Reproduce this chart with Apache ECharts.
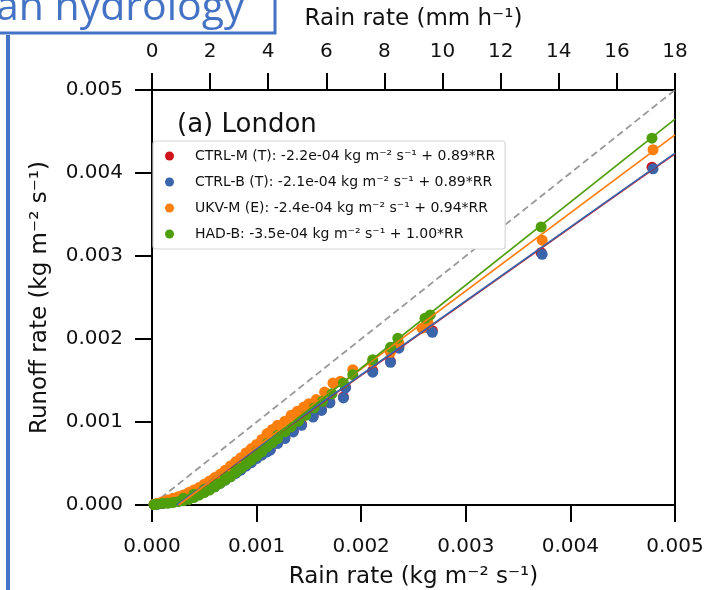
<!DOCTYPE html>
<html><head><meta charset="utf-8">
<script src="https://cdn.jsdelivr.net/npm/echarts@6/dist/echarts.min.js"></script>
<style>html,body{margin:0;padding:0;background:#fff}#c{width:705px;height:590px}</style>
</head><body><div id="c"></div>
<script>
const legendNames = [
  'CTRL-M (T): -2.2e-04 kg m⁻² s⁻¹ + 0.89*RR',
  'CTRL-B (T): -2.1e-04 kg m⁻² s⁻¹ + 0.89*RR',
  'UKV-M (E): -2.4e-04 kg m⁻² s⁻¹ + 0.94*RR',
  'HAD-B: -3.5e-04 kg m⁻² s⁻¹ + 1.00*RR'
];
const colors = ['#d0121b', '#3a65ab', '#ff7f0e', '#4f9e0c'];

const ctrlM = [
  [0.00002,0.000005],[0.00005,0.00001],[0.0001,0.00002],[0.00015,0.00003],[0.0002,0.00004],
  [0.00025,0.00005],[0.0003,0.00007],[0.00035,0.00009],[0.0004,0.00011],[0.00045,0.00014],
  [0.0005,0.00017],[0.00055,0.0002],[0.0006,0.00023],[0.00065,0.00027],[0.0007,0.00031],
  [0.00075,0.00035],[0.0008,0.00039],[0.00085,0.00043],[0.0009,0.00048],[0.00095,0.00052],
  [0.001,0.00057],[0.00105,0.00061],[0.0011,0.00065],[0.00113,0.00067],[0.0012,0.00075],
  [0.00127,0.00081],[0.00135,0.00089],[0.00143,0.00097],[0.00154,0.00107],[0.00162,0.00115],
  [0.0017,0.00124],[0.00183,0.0013],[0.00185,0.00142],[0.00211,0.00162],[0.00228,0.00173],
  [0.00236,0.00191],[0.00263,0.00215],[0.00268,0.0021],[0.00372,0.00304],[0.00478,0.00407]
];
const ctrlB = [
  [0.00002,0.000005],[0.00005,0.00001],[0.0001,0.00002],[0.00015,0.00003],[0.0002,0.00004],
  [0.00025,0.00005],[0.0003,0.00006],[0.00035,0.00008],[0.0004,0.0001],[0.00045,0.00013],
  [0.0005,0.00016],[0.00055,0.00019],[0.0006,0.00022],[0.00065,0.00026],[0.0007,0.0003],
  [0.00075,0.00034],[0.0008,0.00038],[0.00085,0.00042],[0.0009,0.00047],[0.00095,0.00051],
  [0.001,0.00056],[0.00105,0.0006],[0.0011,0.00064],[0.00113,0.00066],[0.0012,0.00074],
  [0.00127,0.0008],[0.00135,0.00088],[0.00143,0.00096],[0.00154,0.00106],[0.00162,0.00114],
  [0.0017,0.00123],[0.00183,0.00129],[0.00185,0.00141],[0.00211,0.0016],[0.00228,0.00172],
  [0.00236,0.00189],[0.00263,0.00214],[0.00268,0.00208],[0.00373,0.00302],[0.00479,0.00405]
];
const ukvM = [
  [0.00002,0.00001],[0.00005,0.00002],[0.0001,0.00004],[0.00015,0.00006],[0.0002,0.00008],
  [0.00025,0.0001],[0.0003,0.00012],[0.00035,0.00015],[0.0004,0.00018],[0.00045,0.00021],
  [0.0005,0.00025],[0.00055,0.00029],[0.0006,0.00033],[0.00065,0.00037],[0.0007,0.00042],
  [0.00075,0.00047],[0.0008,0.00052],[0.00085,0.00057],[0.0009,0.00063],[0.00095,0.00068],
  [0.001,0.00073],[0.00105,0.00079],[0.0011,0.00086],[0.00115,0.00091],[0.0012,0.00096],
  [0.00127,0.00101],[0.00133,0.00108],[0.00139,0.00113],[0.00145,0.00118],[0.0015,0.00122],
  [0.00157,0.00127],[0.00165,0.00136],[0.00173,0.00147],[0.0018,0.00149],[0.00192,0.00163],
  [0.00211,0.00172],[0.00228,0.00184],[0.00236,0.00195],[0.00258,0.00213],[0.00264,0.00219],
  [0.00373,0.00319],[0.00479,0.00428],
  [0.00012,0.00003],[0.00028,0.00009],[0.00042,0.00015],[0.00058,0.00027],[0.00072,0.00038],
  [0.00088,0.00052],[0.00102,0.00067],[0.00118,0.00084]
];
const hadB = [
  [0.00002,0.000005],[0.00005,0.00001],[0.0001,0.00002],[0.00015,0.00002],[0.0002,0.00003],
  [0.00025,0.00004],[0.0003,0.00005],[0.00035,0.00007],[0.0004,0.00009],[0.00045,0.00012],
  [0.0005,0.00015],[0.00055,0.00018],[0.0006,0.00022],[0.00065,0.00026],[0.0007,0.0003],
  [0.00075,0.00034],[0.0008,0.00039],[0.00085,0.00044],[0.0009,0.00049],[0.00095,0.00054],
  [0.001,0.00059],[0.00105,0.00064],[0.0011,0.0007],[0.00115,0.00075],[0.0012,0.0008],
  [0.00127,0.00088],[0.00133,0.00094],[0.0014,0.00101],[0.00147,0.00108],[0.00155,0.00117],
  [0.00163,0.00125],[0.00172,0.00134],[0.00183,0.00147],[0.00192,0.00157],[0.00211,0.00175],
  [0.00228,0.0019],[0.00235,0.00201],[0.00261,0.00225],[0.00266,0.00229],[0.00372,0.00335],
  [0.00478,0.00442],
  [0.0003,0.00008],[0.0004,0.00013],[0.0005,0.00019],[0.0006,0.00026],[0.0007,0.00035],
  [0.0008,0.00044],[0.0009,0.00054],[0.001,0.00064],[0.0011,0.00074],[0.0012,0.00084]
];
const fitIntercept = [-2.2e-4, -2.1e-4, -2.4e-4, -3.5e-4];
const fitSlope = [0.89, 0.89, 0.94, 1.00];
const oneToOne = [[0, 0], [0.005, 0.005]];
const xMax = 0.005;

const scatterData = [ctrlM, ctrlB, ukvM, hadB];
const FONT = 'DejaVu Sans';

const series = [];
scatterData.forEach((d, i) => {
  series.push({
    name: legendNames[i], type: 'scatter', data: d, symbolSize: 11,
    itemStyle: { color: colors[i], opacity: 1 }, z: 2, silent: true
  });
});
series.push({
  name: '1:1', type: 'line', data: oneToOne, symbol: 'none', z: 1,
  lineStyle: { color: '#999', width: 1.8, type: [7, 4] }, silent: true
});
fitIntercept.forEach((a, i) => {
  const b = fitSlope[i];
  const x0 = -a / b;
  series.push({
    name: 'fit' + i, type: 'line', symbol: 'none', z: 3, silent: true,
    data: [[x0, 0], [xMax, a + b * xMax]],
    lineStyle: { color: colors[i], width: i === 0 ? 1.2 : 1.7 }
  });
});

const axisCommon = {
  axisLine: { show: true, onZero: false, lineStyle: { color: '#000', width: 2 } },
  axisTick: { show: true, inside: false, length: 17, lineStyle: { color: '#000', width: 2 } },
  splitLine: { show: false }
};

const chart = echarts.init(document.getElementById('c'), null, { renderer: 'canvas' });
chart.setOption({
  animation: false,
  backgroundColor: '#fff',
  textStyle: { fontFamily: FONT },
  grid: { left: 152, right: 30, top: 90, bottom: 85, containLabel: false, outerBoundsMode: 'none' },
  title: {
    text: '(a) London', left: 172, top: 107,
    textStyle: { fontFamily: FONT, fontSize: 26, fontWeight: 'normal', color: '#111' }
  },
  legend: {
    data: legendNames, orient: 'vertical', left: 153, top: 141,
    icon: 'circle', itemWidth: 9, itemHeight: 9, itemGap: 12,
    padding: [8, 10, 8, 12],
    backgroundColor: '#fff', borderColor: '#d6d6d6', borderWidth: 1.2, borderRadius: 3,
    textStyle: { fontFamily: FONT, fontSize: 14, color: '#111', padding: [0, 0, 0, 16] },
    selectedMode: false
  },
  xAxis: [
    Object.assign({
      type: 'value', position: 'bottom', min: 0, max: 0.005, interval: 0.001,
      name: 'Rain rate (kg m⁻² s⁻¹)', nameLocation: 'middle', nameGap: 61,
      nameTextStyle: { fontFamily: FONT, fontSize: 23, color: '#111' },
      axisLabel: { fontFamily: FONT, fontSize: 20, color: '#111', margin: 32, formatter: v => v.toFixed(3) }
    }, axisCommon),
    Object.assign({
      type: 'value', position: 'top', min: 0, max: 18, interval: 2,
      name: 'Rain rate (mm h⁻¹)', nameLocation: 'middle', nameGap: 59,
      nameTextStyle: { fontFamily: FONT, fontSize: 23, color: '#111' },
      axisLabel: { fontFamily: FONT, fontSize: 20, color: '#111', margin: 28 }
    }, axisCommon)
  ],
  yAxis: [
    Object.assign({
      type: 'value', position: 'left', min: 0, max: 0.005, interval: 0.001,
      name: 'Runoff rate (kg m⁻² s⁻¹)', nameLocation: 'middle', nameGap: 100, nameRotate: 90,
      nameTextStyle: { fontFamily: FONT, fontSize: 23, color: '#111' },
      axisLabel: { fontFamily: FONT, fontSize: 20, color: '#111', margin: 29, formatter: v => v.toFixed(3) }
    }, axisCommon),
    {
      type: 'value', position: 'right', min: 0, max: 0.005, interval: 0.001,
      axisLine: { show: true, onZero: false, lineStyle: { color: '#000', width: 2 } },
      axisTick: { show: false }, axisLabel: { show: false }, splitLine: { show: false }
    }
  ],
  graphic: [
    { type: 'rect', shape: { x: -6, y: -6, width: 281, height: 39 },
      style: { fill: '#fff', stroke: '#4472c4', lineWidth: 3 }, z: 10 },
    { type: 'text', x: -4, y: 29, z: 11,
      style: { text: 'an hydrology', font: '41px "Open Sans"', fill: '#4472c4', verticalAlign: 'bottom' } },
    { type: 'rect', shape: { x: 6, y: 35, width: 4, height: 560 },
      style: { fill: '#4472c4' }, z: 10 }
  ],
  series: series
});
</script></body></html>
